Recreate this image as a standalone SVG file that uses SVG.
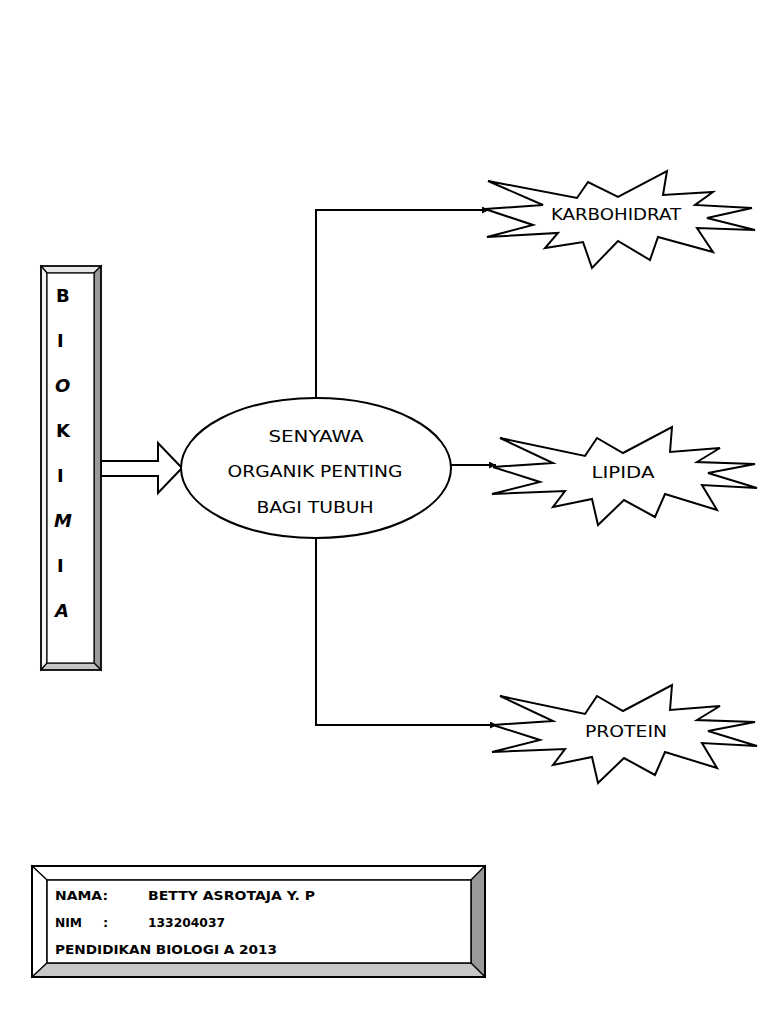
<svg xmlns="http://www.w3.org/2000/svg" width="768" height="1024" viewBox="0 0 768 1024">
<style>
.ln{fill:none;stroke:#000;stroke-width:2}
.bev{stroke:#000;stroke-width:1.2;stroke-linejoin:miter}
.star{fill:#fff;stroke:#000;stroke-width:2;stroke-linejoin:miter}
.t{font-family:"DejaVu Sans","Liberation Sans",sans-serif;fill:#000}
.big{font-size:18px;font-weight:bold}
.lbl{font-size:16px}
.sm{font-size:13px;font-weight:bold}
</style>
<defs>
<marker id="ah" viewBox="0 0 10 10" refX="10" refY="5" markerWidth="9" markerHeight="7" markerUnits="userSpaceOnUse" orient="auto">
<path d="M0,0 L10,5 L0,10 Z" fill="#000"/>
</marker>
<polygon id="starB" points="500,438 585,456 597,438 623,453 672,427 670,452 720,448 697,462 755,464 708,473 757,488 702,485 717,510 665,494 655,517 624,500 598,525 592,499 553,507 565,491 492,494 540,482 493,467 553,463"/>
</defs>
<rect width="768" height="1024" fill="#fff"/>

<g id="connectors">
<path class="ln" d="M316,398 V210 H489" marker-end="url(#ah)"/>
<path class="ln" d="M451,465 H496" marker-end="url(#ah)"/>
<path class="ln" d="M316,538 V725 H497" marker-end="url(#ah)"/>
<polygon points="101,461 158,461 158,443 182,468 158,493 158,476 101,476" fill="#fff" stroke="#000" stroke-width="2" stroke-linejoin="miter"/>
</g>

<g id="biokimia">
<polygon class="bev" points="41,266 101,266 94,273 47,273" fill="#e6e6e6"/>
<polygon class="bev" points="41,266 47,273 47,663 41,670" fill="#f5f5f5"/>
<polygon class="bev" points="101,266 101,670 94,663 94,273" fill="#999"/>
<polygon class="bev" points="41,670 101,670 94,663 47,663" fill="#c4c4c4"/>
<rect x="47" y="273" width="47" height="390" fill="#fff" stroke="#000" stroke-width="1.2"/>
<rect x="41" y="266" width="60" height="404" fill="none" stroke="#000" stroke-width="1.5"/>
<text class="t big" x="56" y="302">B</text>
<text class="t big" x="57" y="347">I</text>
<text class="t big" x="55" y="392" font-style="italic">O</text>
<text class="t big" x="56" y="437">K</text>
<text class="t big" x="57" y="482">I</text>
<text class="t big" x="54" y="527" font-style="italic">M</text>
<text class="t big" x="57" y="572">I</text>
<text class="t big" x="55" y="617" font-style="italic">A</text>
</g>

<g id="senyawa">
<ellipse cx="316" cy="468" rx="135" ry="70" fill="#fff" stroke="#000" stroke-width="2"/>
<text class="t lbl" x="316" y="442" text-anchor="middle" textLength="95" lengthAdjust="spacingAndGlyphs">SENYAWA</text>
<text class="t lbl" x="315" y="477" text-anchor="middle" textLength="175" lengthAdjust="spacingAndGlyphs">ORGANIK PENTING</text>
<text class="t lbl" x="315" y="513" text-anchor="middle" textLength="117" lengthAdjust="spacingAndGlyphs">BAGI TUBUH</text>
</g>

<g id="karbohidrat">
<polygon class="star" points="488,181 577,198 588,182 618,197 667,171 663,195 713,192 695,205 752,208 707,218 755,230 697,228 713,252 658,237 650,260 618,241 592,268 583,242 545,248 558,233 487,237 533,225 485,209 543,205"/>
<text class="t lbl" x="616" y="220" text-anchor="middle" textLength="130" lengthAdjust="spacingAndGlyphs">KARBOHIDRAT</text>
</g>

<g id="lipida">
<use href="#starB" class="star"/>
<text class="t lbl" x="623" y="478" text-anchor="middle" textLength="63" lengthAdjust="spacingAndGlyphs">LIPIDA</text>
</g>

<g id="protein">
<use href="#starB" class="star" transform="translate(0,258)"/>
<text class="t lbl" x="626" y="737" text-anchor="middle" textLength="82" lengthAdjust="spacingAndGlyphs">PROTEIN</text>
</g>

<g id="identitas">
<polygon class="bev" points="32,866 485,866 471,880 47,880" fill="#fff"/>
<polygon class="bev" points="32,866 47,880 47,963 32,977" fill="#fff"/>
<polygon class="bev" points="485,866 485,977 471,963 471,880" fill="#999"/>
<polygon class="bev" points="32,977 485,977 471,963 47,963" fill="#c8c8c8"/>
<rect x="47" y="880" width="424" height="83" fill="#fff" stroke="#000" stroke-width="1.5"/>
<rect x="32" y="866" width="453" height="111" fill="none" stroke="#000" stroke-width="2"/>
<text class="t sm" x="55" y="900" textLength="53" lengthAdjust="spacingAndGlyphs">NAMA:</text>
<text class="t sm" x="148" y="900" textLength="167" lengthAdjust="spacingAndGlyphs">BETTY ASROTAJA Y. P</text>
<text class="t sm" x="55" y="927" textLength="27" lengthAdjust="spacingAndGlyphs">NIM</text>
<text class="t sm" x="103" y="927">:</text>
<text class="t sm" x="148" y="927" textLength="77" lengthAdjust="spacingAndGlyphs">133204037</text>
<text class="t sm" x="55" y="954" textLength="222" lengthAdjust="spacingAndGlyphs">PENDIDIKAN BIOLOGI A 2013</text>
</g>
</svg>
